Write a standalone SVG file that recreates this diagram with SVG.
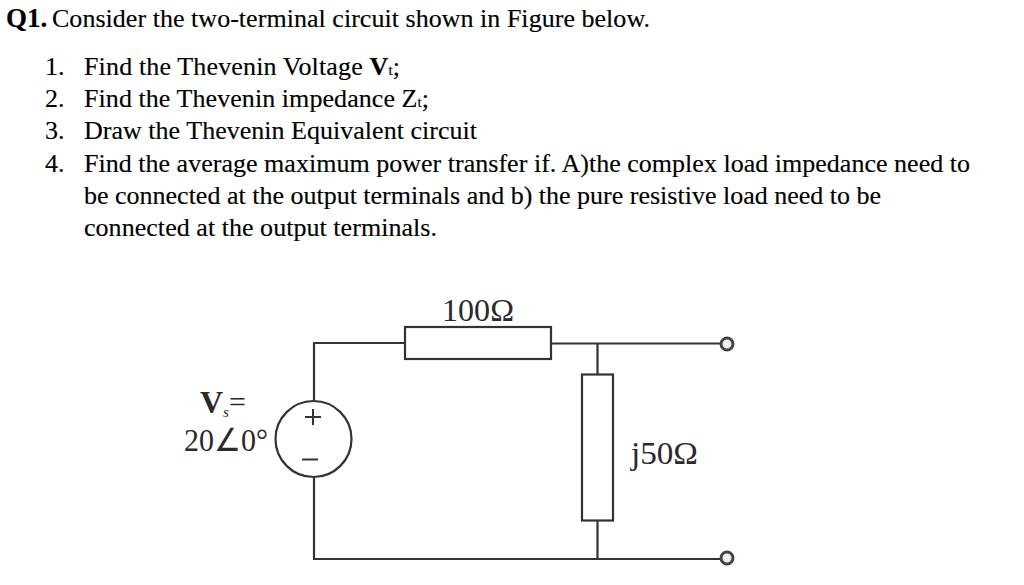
<svg xmlns="http://www.w3.org/2000/svg" width="1024" height="585" viewBox="0 0 1024 585">
<style>
text{font-family:"Liberation Serif","Times New Roman",serif;fill:#000;stroke:#000;stroke-width:.15}
.t{font-size:26px}
.c{font-size:32px;fill:#2a2a2a;stroke:none}
.w{fill:none;stroke:#333;stroke-width:2.2}
.b{fill:#fff;stroke:#333;stroke-width:2.2}
.p{fill:#f3efe8;stroke:#444;stroke-width:3}
</style>
<rect width="1024" height="585" fill="#fff"/>
<g id="question">
<text class="t" x="6" y="27" style="font-size:27px" font-weight="bold">Q1.</text>
<text class="t" x="52" y="27" textLength="598">Consider the two-terminal circuit shown in Figure below.</text>
<text class="t" x="45" y="74.500">1.</text>
<text class="t" x="84" y="74.500" textLength="316">Find the Thevenin Voltage <tspan font-weight="bold">V</tspan><tspan style="font-size:15px">t</tspan>;</text>
<text class="t" x="45" y="106.500">2.</text>
<text class="t" x="84" y="106.500" textLength="345">Find the Thevenin impedance Z<tspan style="font-size:15px">t</tspan>;</text>
<text class="t" x="45" y="139">3.</text>
<text class="t" x="84" y="139" textLength="393">Draw the Thevenin Equivalent circuit</text>
<text class="t" x="45" y="171.500">4.</text>
<text class="t" x="84" y="171.500" textLength="886">Find the average maximum power transfer if. A)the complex load impedance need to</text>
<text class="t" x="84" y="203.500" textLength="797">be connected at the output terminals and b) the pure resistive load need to be</text>
<text class="t" x="84" y="236" textLength="353">connected at the output terminals.</text>
</g>
<g id="connectors">
<path class="w" d="M314 401V343H405"/>
<path class="w" d="M551 343.500H721"/>
<path class="w" d="M597.500 343.500V374"/>
<path class="w" d="M597.500 520V559"/>
<path class="w" d="M314 477V559H721"/>
</g>
<g id="source">
<circle class="b" cx="313.500" cy="439" r="38"/>
<path d="M313 409V425M305 417H321" fill="none" stroke="#333" stroke-width="2"/>
<path d="M302 459.500H318" fill="none" stroke="#333" stroke-width="2"/>
<text class="c" x="200" y="413"><tspan font-weight="bold">V</tspan><tspan font-style="italic" style="font-size:15px" dy="4">s</tspan><tspan x="229" dy="-5" style="font-size:30px">=</tspan></text>
<text class="c" x="184" y="451" textLength="84" lengthAdjust="spacingAndGlyphs">20∠0°</text>
</g>
<g id="r100">
<rect class="b" x="405" y="327" width="146" height="32"/>
<text class="c" x="442" y="321" textLength="72" lengthAdjust="spacingAndGlyphs">100Ω</text>
</g>
<g id="j50">
<rect class="b" x="582" y="374.500" width="31" height="146"/>
<text class="c" x="631" y="464" textLength="67" lengthAdjust="spacingAndGlyphs">j50Ω</text>
</g>
<g id="terminal-top"><circle class="p" cx="727" cy="344" r="6"/></g>
<g id="terminal-bottom"><circle class="p" cx="727" cy="558" r="6"/></g>
</svg>
